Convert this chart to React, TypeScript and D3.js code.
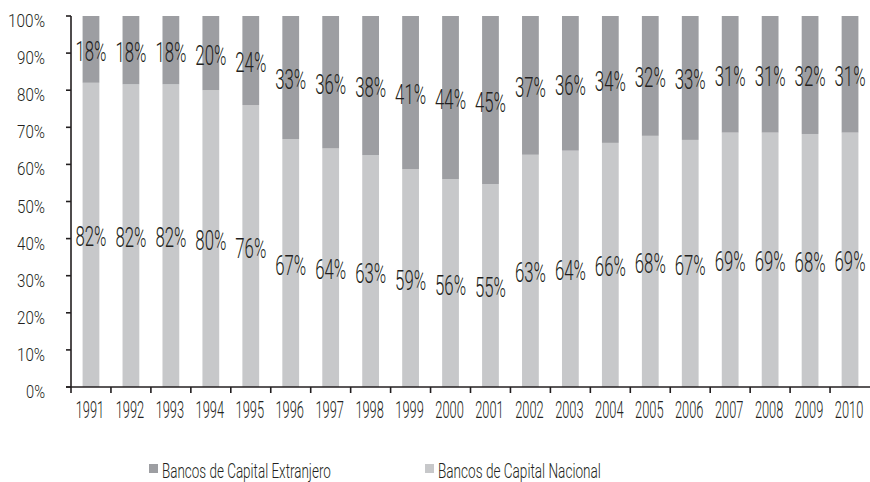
import React from "react";
import * as d3 from "d3";

const years = ["1991","1992","1993","1994","1995","1996","1997","1998","1999","2000","2001","2002","2003","2004","2005","2006","2007","2008","2009","2010"];
const nacional = [82.0, 81.5, 81.5, 80.0, 76.0, 66.8, 64.3, 62.6, 58.7, 56.0, 54.7, 62.6, 63.7, 65.8, 67.7, 66.6, 68.5, 68.5, 68.2, 68.5];
const extranjero = [18.0, 18.4, 18.4, 20.0, 24.0, 33.2, 35.7, 37.6, 41.3, 44.0, 45.3, 37.4, 36.3, 34.2, 32.3, 33.4, 31.4, 31.4, 31.8, 31.4];
const yTicks = [0, 10, 20, 30, 40, 50, 60, 70, 80, 90, 100];
const seriesNames = ["Bancos de Capital Extranjero", "Bancos de Capital Nacional"];

const W = 870, H = 482;
const M = { left: 71, right: 870, top: 16, bottom: 387 };
const DARK = "#9d9ea2";
const LIGHT = "#c7c8ca";
const INK = "#231f20";
const FONT = "Roboto, 'DejaVu Sans Condensed', sans-serif";

let ctx: CanvasRenderingContext2D | null = null;
function measure(s: string, size: number): number {
  if (!ctx && typeof document !== "undefined") ctx = document.createElement("canvas").getContext("2d");
  if (!ctx) return s.length * size * 0.55;
  ctx.font = `300 ${size}px Roboto`;
  return ctx.measureText(s).width || s.length * size * 0.55;
}

// condensed width estimates to mimic the narrow typeface of the reference
function condensedWidth(s: string, digit: number, pct: number) {
  let w = 0;
  for (const ch of s) w += ch === "%" ? pct : digit;
  return w;
}

function CText({ x, y, size, target, anchor = "start", children }: { x: number; y: number; size: number; target: number; anchor?: string; children: string }) {
  const k = target / measure(children, size);
  return (
    <text transform={`translate(${x},${y}) scale(${k},1)`} textAnchor={anchor} fontSize={size} fill={INK}>
      {children}
    </text>
  );
}

export default function App() {
  const x = d3.scaleBand<string>().domain(years).range([M.left, M.right]).paddingInner(0.58).paddingOuter(0.29);
  const xb = d3.scaleBand<string>().domain(years).range([M.left, M.right]);
  const y = d3.scaleLinear().domain([0, 1]).range([M.bottom, M.top]);
  const table = years.map((yr, i) => ({ year: yr, nac: nacional[i], ext: extranjero[i] }));
  const stack = d3.stack<any>().keys(["nac", "ext"]).offset(d3.stackOffsetExpand);
  const layers = stack(table);
  const colors = [LIGHT, DARK];
  const valueArrays = [nacional, extranjero];

  return (
    <svg width={W} height={H} style={{ position: "absolute", left: 0, top: 0, background: "#fff" }} fontFamily={FONT} fontWeight={300}>
      {layers.map((layer, li) => (
        <g key={li}>
          {layer.map((d, i) => (
            <rect key={i} x={x(years[i])} width={x.bandwidth()} y={y(d[1])} height={y(d[0]) - y(d[1])} fill={colors[li]} />
          ))}
        </g>
      ))}
      {layers.map((layer, li) => (
        <g key={"l" + li}>
          {layer.map((d, i) => {
            const s = Math.round(valueArrays[li][i]) + "%";
            return (
              <CText key={i} x={(x(years[i]) as number) + x.bandwidth() / 2} y={y((d[0] + d[1]) / 2) + 11.5} size={27} anchor="middle"
                target={condensedWidth(s, 8.7, 13.6)}>{s}</CText>
            );
          })}
        </g>
      ))}
      {/* y axis */}
      <line x1={M.left} x2={M.left} y1={M.top} y2={M.bottom} stroke={INK} strokeWidth={1.6} />
      {yTicks.map((t) => {
        const s = t + "%";
        return (
          <g key={t}>
            <line x1={M.left - 5} x2={M.left} y1={y(t / 100)} y2={y(t / 100)} stroke={INK} strokeWidth={1.6} />
            <CText x={45} y={y(t / 100) + 11} size={18} anchor="end" target={condensedWidth(s, 9, 10)}>{s}</CText>
          </g>
        );
      })}
      {/* x axis */}
      <line x1={M.left - 5} x2={M.right} y1={M.bottom} y2={M.bottom} stroke={INK} strokeWidth={1.6} />
      {years.map((yr) => (
        <g key={yr}>
          <line x1={xb(yr)} x2={xb(yr)} y1={M.bottom} y2={M.bottom + 6} stroke={INK} strokeWidth={1.6} />
          <CText x={(xb(yr) as number) + xb.bandwidth() / 2 - 1} y={418} size={24.5} anchor="middle" target={28.5}>{yr}</CText>
        </g>
      ))}
      {/* legend */}
      {seriesNames.map((s, i) => {
        const lx = i === 0 ? 149 : 425;
        return (
          <g key={s}>
            <rect x={lx} y={464} width={9} height={9} fill={i === 0 ? DARK : LIGHT} />
            <CText x={lx + 13} y={477.5} size={21} target={i === 0 ? 169 : 163}>{s}</CText>
          </g>
        );
      })}
    </svg>
  );
}
